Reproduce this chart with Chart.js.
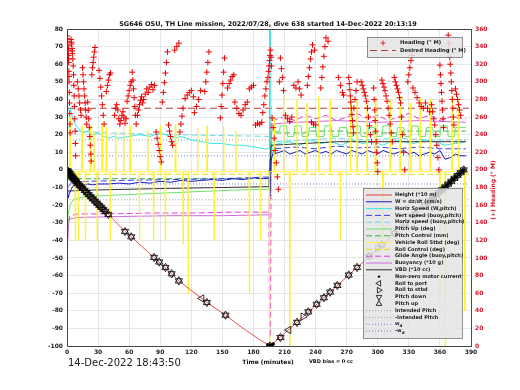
<!DOCTYPE html>
<html>
<head>
<meta charset="utf-8">
<script src="https://cdn.jsdelivr.net/npm/chart.js@4.4.1/dist/chart.umd.min.js"></script>
<style>
  html, body { margin: 0; padding: 0; background: #fff; }
</style>
</head>
<body>
<canvas id="diveChart" width="520" height="390"></canvas>
<script>
// ---- text ----
const titleText = "SG646 OSU, TH Line mission, 2022/07/28, dive 638 started 14-Dec-2022 20:13:19";
const startStamp = "14-Dec-2022 18:43:50";
const vbdBias = "VBD bias = 0 cc";

// ---- axes ----
const timeRange = [0, 390];
const leftRange = [-100, 80];
const headingRange = [0, 360];

// ---- heading (deg M), [minutes, heading] ----
const heading = [
  [0.3,352],[0.5,349],[0.6,346],[0.9,341],[1.0,338],[1.2,336],[1.4,330],[1.5,326],[1.6,322],[1.8,312],[1.9,306],[2.0,300],[2.2,288],[2.4,276],[2.6,264],[2.8,252],[3.0,242],
  [4,348],[4.2,345],[4.4,343],[4.8,338],[5.0,335],[5.2,332],[5.6,326],[6,318],[6.3,308],[6.6,296],[6.9,284],[7.2,272],[7.5,258],[7.8,244],[8.1,230],[8.4,216],
  [10,300],[10.8,292],[11.5,284],[12.2,276],[13,268],[13.6,262],
  [15,316],[15.5,308],[16,300],[16.5,292],[17,284],[17.5,276],[18,268],[18.5,260],[19,252],
  [20,277],[20.5,268],[21,258],[21.5,248],[22,238],[22.5,228],[23,218],[23.3,210],
  [24,308],[24.6,316],[25.2,322],[25.8,328],[26.4,334],[27,339],
  [31,313],[31.8,304],[32.6,294],[33.4,284],[34.2,274],[35,262],[35.8,252],
  [38,289],[39,296],[40,302],[41,308],[42,310],
  [46,262],[47,270],[48,274],[49,268],[50,258],[51,252],
  [52,256],[53,262],[54,266],[55,260],[56,253],[57,258],
  [58,278],[59,284],[60,290],[61,296],[62,300],
  [63,311],[63.6,302],[64.2,292],[64.8,282],[65.4,272],[66,262],[66.8,252],
  [68,262],[69,268],[70,274],[71,279],[72,283],[73,276],
  [74,280],[75.5,286],[77,292],[78.5,288],[80,294],[81.5,297],[83,291],[84.5,296],
  [86,243],[87,236],[88,229],[89,222],[90,215],[91,209],
  [92,277],[93,288],[94,299],[95,310],[96,322],[97,334],
  [98,251],[99,244],[100,238],[101,232],[102,228],
  [104,336],[106,340],[108,344],
  [109,243],[110,252],[111,261],[112,270],
  [114,281],[116,285],[118,288],[120,290],[122,283],
  [123,265],[125,272],[127,280],[129,290],
  [133,289],[134,300],[135,311],[136,322],[137,334],
  [148,259],[148.8,272],[149.6,285],[150.4,298],[151.2,311],[152,327],
  [155,293],[156.5,298],[158,302],[159.5,306],[161,308],
  [162,277],[164,270],[166,264],[168,262],[170,268],[172,274],[174,277],
  [176,292],[178,294],[180,296],
  [182,251],[184,253],[186,252],[188,254],
  [189,265],[190,274],[191,284],[192,292],[193,300],
  [194,305],[194.5,312],[195,318],[195.5,324],[196,330],[196.5,336],[197,328],[197.3,318],
  [198,259],[199,248],[200,236],[201,222],[202,208],[203,192],[204,178],
  [205,300],[206,327],[207,315],[208,305],[209,290],
  [211,262],[213,258],[215,255],[217,260],
  [219,296],[221,293],
  [223,300],[224.5,292],[226,285],
  [232,296],[233,306],[234,316],[235,326],[236,334],[237,342],[239,336],
  [236,254],[238,252],[240,251],
  [245,293],[246,305],[247,317],[248,329],[249,340],[250,350],[252,346],
  [262,305],[264,296],[266,288],[267,285],
  [272,305],[272.5,298],[273,291],[273.5,284],[274,277],[274.5,270],[275,263],[275.5,256],[276,249],[276.5,242],[277,270],[278,280],[279,290],[280,300],
  [284,300],[285,296],[286,292],[287,288],[288,284],[289,278],[290,270],[291,260],[292,250],[293,240],[294,232],
  [296,293],[296.5,280],[297,268],[297.5,256],[298,244],[298.5,232],[299,220],[299.5,208],[300,198],
  [304,302],[305,298],[306,294],[307,290],[308,284],[309,278],[310,270],[311,262],[312,252],[313,242],[314,232],
  [316,305],[317,300],[318,296],[319,292],[320,288],[321,282],[322,276],[323,260],[324,240],[325,220],[326,200],
  [329,300],[330,308],[331,316],[332,324],[333,330],
  [334,293],[336,288],[338,282],[340,276],[342,272],[344,270],[346,276],[348,270],[350,266],
  [352,274],[353,266],[354,258],[355,251],[356,240],[357,228],[358,214],[359,200],
  [360,319],[360.5,308],[361,298],[361.5,288],[362,278],[362.5,268],[363,258],[363.5,248],
  [368,353],[368.5,344],[369,336],[369.5,328],[370,320],[370.5,310],[371,300],[371.5,290],[372,280],[372.5,270],[373,260],[373.5,251],
  [375,292],[376,286],[377,280],[378,274],[379,268],[380,262]
];
const desiredHeading = [[0,270],[388,270]];

// ---- left axis series, [minutes, value] ----
const height = [[0,0],[5,-4],[10,-7.5],[20,-13.5],[30,-19.5],[42,-26.5],[56,-35],[62,-38],[84,-49.7],[108,-63],[135,-75.3],[153,-82.5],[170,-90],[185,-96],[196,-100],[222,-86.6],[280,-55.4],[340,-23.1],[383,0]];
const wSpeed = [[0,-4],[1,-16],[2,-14],[4,-11],[6,-9],[10,-8.5],[15,-9],[20,-8],[25,-8.5],[30,-8],[40,-8],[50,-7.5],[60,-8],[70,-7],[80,-7.5],[90,-6.5],[100,-7],[110,-6],[120,-6.5],[130,-6],[140,-5.5],[150,-6],[160,-5],[170,-5.5],[180,-4.5],[190,-5],[195,-4.5],[196,-15],[197,5],[198,8],[200,9],[205,10],[210,11],[215,9],[220,10],[225,11],[230,9],[235,10],[240,11],[245,9.5],[250,10.5],[255,9],[260,11],[265,10],[270,9],[275,11],[280,10],[285,9],[290,11],[295,10],[300,9],[305,11],[310,10],[315,9],[320,10],[325,11],[330,9],[335,10],[340,8],[345,9],[350,10],[355,9],[360,11],[365,6],[370,7],[375,9],[380,8],[385,8]];
const horizSpeedW = [[0,33],[3,35],[6,28],[10,24],[15,21],[20,22],[25,20],[30,21],[35,19],[40,18],[45,19],[50,18],[60,19],[70,20],[80,19],[90,21],[95,20],[100,19],[105,18],[110,19],[120,17],[130,16],[140,15],[150,15],[160,14],[170,14],[180,13],[190,12],[195,12],[195.5,80],[196.5,80],[197,-2],[198,14],[205,15],[215,16],[225,14],[235,17],[245,15],[255,16],[265,14],[275,17],[285,15],[295,16],[305,14],[315,17],[325,16],[335,15],[345,17],[355,16],[365,14],[375,15],[385,16]];
const vertSpeedBuoy = [[0,-10],[5,-7],[20,-6.5],[50,-6],[100,-5.5],[150,-5],[195,-4],[197,6],[200,12],[220,13],[240,12],[260,13.5],[280,12.5],[300,13],[320,12],[340,13],[360,12],[385,12]];
const horizSpeedBuoy = [[0,25],[10,22],[40,21],[100,20],[150,19.5],[195,19],[197,15],[200,16],[230,17],[260,18],[290,17],[320,18],[350,17],[385,17]];
const pitchUp = [[0,-80],[0.5,-40],[1,-25],[3,-20],[6,-17],[10,-16],[20,-15],[40,-14.5],[80,-13.5],[120,-12.5],[160,-11.5],[195,-11],[196,5],[197,22],[205,22],[206,25],[212,25],[213,19],[219,19],[220,25],[226,25],[227,19],[233,19],[234,24],[240,24],[241,19],[248,19],[249,25],[255,25],[256,19],[262,19],[263,24],[270,24],[271,19],[276,19],[277,25],[283,25],[284,19],[290,19],[291,24],[297,24],[298,19],[304,19],[305,25],[311,25],[312,19],[318,19],[319,24],[325,24],[326,19],[332,19],[333,25],[339,25],[340,19],[346,19],[347,24],[353,24],[354,19],[360,19],[361,25],[367,25],[368,19],[374,19],[375,24],[385,24]];
const pitchControl = [[0,-5],[195,-5],[197,21],[230,21],[231,22],[270,22],[271,21],[320,21],[321,22],[385,22]];
const rollBase = -1;
const rollSpikeT = [3,8,11,14.5,17.7,22.5,26,29,33.8,38,41.8,47,54.7,61.1,70,78,83.6,90.1,94.9,104.6,112,117,126,135.2,142,151.2,163,176,186.7,195.5,200,209,215,222,231.7,243,254,264,273.6,280,289.7,297.7,305,312,321.6,331.4,341,350.7,360,365,371.7,378,384];
const rollSpikeV = [30,-40,-40,25,-40,25,22,-40,26,24,-40,22,24,25,-40,22,-40,25,-40,26,-42,-70,24,25,-40,25,22,-70,-40,-100,30,42,-100,40,38,42,40,-40,42,40,38,41,-40,40,42,38,41,40,-70,-100,42,40,-80];
const rollControl = [[0,-2.5],[195,-2.5],[197,-2.5],[388,-2.5]];
const glideAngle = [[0,-60],[1,-30],[3,-26],[10,-25],[40,-25],[80,-24.5],[120,-24.5],[160,-24],[195,-24],[195.5,-95],[196.5,-95],[197,28],[210,30],[220,28],[230,31],[240,29],[250,31],[260,28],[270,30],[280,32],[290,29],[300,31],[310,28],[320,30],[330,32],[340,29],[350,31],[360,28],[370,30],[385,29]];
const buoyancy = [[0,-70],[0.5,-40],[2,-28],[10,-27],[50,-26.5],[100,-26],[150,-26],[195,-25.5],[197,26],[220,27],[260,28],[300,27],[340,28],[385,27]];
const vbd = [[0,-12],[2,-12],[20,-11.5],[60,-11],[100,-10.5],[150,-10],[195,-9.5],[197,14],[230,15],[260,16],[300,16],[385,16]];
const intendedPitch = [[0,-17],[196,-17],[197,17],[388,17]];
const negIntendedPitch = [[0,17],[196,17],[197,-17],[388,-17]];
const wD = [[0,8],[388,8]];
const negWD = [[0,-8],[388,-8]];

// ---- markers on the depth trace, [minutes, depth/10 m] ----
const motorOn = [[0,0],[0.5,-0.4],[1,-0.8],[1.5,-1.2],[2,-1.6],[2.5,-2],[3,-2.4],[3.5,-2.8],[4,-3.2],[194,-99.5],[195,-99.8],[196,-100],[197,-100],[197.5,-99.7],[198,-99.5],[199,-98.9],[350,-17.7],[352,-16.7],[354,-15.6],[356,-14.5],[358,-13.4],[360,-12.4],[362,-11.3],[364,-10.2],[366,-9.1],[368,-8.1],[370,-7],[372,-5.9],[374,-4.8],[376,-3.8],[378,-2.7],[380,-1.6],[382,-0.5],[383,0]];
const rollPort = [[130,-73],[214,-90.9]];
const rollStbd = [[228,-83.3],[300,-44.6]];
const pitchMoves = [[0.5,-0.4],[1.2,-1],[2,-1.6],[2.8,-2.2],[3.6,-2.9],[4.4,-3.5],[5.2,-4.2],[6,-4.7],[7,-5.4],[8,-6.1],[9,-6.8],[10.5,-7.8],[12,-8.7],[13.5,-9.6],[15,-10.5],[17,-11.7],[19,-12.9],[21,-14.1],[23,-15.3],[25,-16.5],[27,-17.7],[29,-18.9],[31,-20.1],[33,-21.2],[35,-22.4],[37,-23.5],[40,-25.3],[56,-35],[62,-38],[84,-49.7],[89,-52.3],[95,-55.4],[101,-59],[108,-63],[135,-75.3],[153,-82.5],[196,-100],[206,-95.2],[222,-86.6],[233,-80.6],[241,-76.3],[248,-72.6],[254,-69.4],[261,-65.6],[272,-59.7],[280,-55.4],[292,-48.9],[304,-42.5],[316,-36],[326,-30.6],[336,-25.3],[345,-20.4],[350,-17.7],[353,-16.1],[356,-14.5],[359,-12.9],[362,-11.3],[365,-9.7],[368,-8.1],[371,-6.5],[374,-4.8],[377,-3.2],[380,-1.6],[383,0]];

// build the roll trace from the spike table
const roll = [[0, rollBase]];
rollSpikeT.forEach(function (t, i) {
  roll.push([t - 0.4, rollBase], [t, rollSpikeV[i]], [t + 0.4, rollBase]);
});
roll.push([388, rollBase]);

const pts = arr => arr.map(p => ({ x: p[0], y: p[1] }));

function line(label, data, color, dash, order, width) {
  return {
    label: label, data: pts(data), showLine: true, pointRadius: 0,
    borderColor: color, backgroundColor: color, borderWidth: width || 0.9,
    borderDash: dash || [], order: order, yAxisID: "y", box: "bottom"
  };
}
function marks(label, data, style, rot, filled, order) {
  return {
    label: label, data: pts(data), showLine: false, pointStyle: style,
    pointRadius: style === "circle" ? 1.4 : 4.2, pointRotation: rot,
    borderColor: "#000", backgroundColor: filled ? "#000" : "rgba(0,0,0,0)",
    borderWidth: 0.8, order: order, yAxisID: "y", box: "bottom", mark: style, rot: rot
  };
}

const datasets = [
  { label: "Heading (° M)", data: pts(heading), showLine: false, pointStyle: "cross",
    pointRadius: 3, borderColor: "rgb(235,0,0)", borderWidth: 1, order: 1,
    yAxisID: "y1", box: "top", mark: "cross" },
  { label: "Desired Heading (° M)", data: pts(desiredHeading), showLine: true, pointRadius: 0,
    borderColor: "rgb(170,40,40)", borderWidth: 0.9, borderDash: [7, 4], order: 9,
    yAxisID: "y1", box: "top" },
  line("Height (*10 m)", height, "rgb(225,40,40)", [], 3, 0.8),
  line("W = dz/dt (cm/s)", wSpeed, "rgb(0,0,190)", [], 6),
  line("Horiz Speed (W,pitch)", horizSpeedW, "rgb(40,225,225)", [], 7),
  line("Vert speed (buoy,pitch)", vertSpeedBuoy, "rgb(40,40,235)", [6, 3], 8),
  line("Horiz speed (buoy,pitch)", horizSpeedBuoy, "rgb(90,215,235)", [6, 3], 8),
  line("Pitch Up (deg)", pitchUp, "rgb(90,225,90)", [], 7),
  line("Pitch Control (mm)", pitchControl, "rgb(40,170,40)", [6, 3], 8),
  line("Vehicle Roll Stbd (deg)", roll, "rgb(255,240,40)", [], 5),
  line("Roll Control (deg)", rollControl, "rgb(225,215,0)", [6, 3], 8),
  line("Glide Angle (buoy,pitch)", glideAngle, "rgb(225,40,225)", [6, 3], 7),
  line("Buoyancy (*10 g)", buoyancy, "rgb(200,90,220)", [], 7),
  line("VBD (*10 cc)", vbd, "rgb(30,30,30)", [], 6),
  marks("Non-zero motor current", motorOn, "circle", 0, true, 0),
  marks("Roll to port", rollPort, "triangle", 270, false, 0),
  marks("Roll to stbd", rollStbd, "triangle", 90, false, 0),
  marks("Pitch down", pitchMoves, "triangle", 180, false, 0),
  marks("Pitch up", pitchMoves, "triangle", 0, false, 0),
  line("Intended Pitch", intendedPitch, "rgb(150,150,150)", [1, 2], 9),
  line("-Intended Pitch", negIntendedPitch, "rgb(150,150,150)", [1, 2], 9),
  line("w_d", wD, "rgb(110,110,210)", [1, 2], 9),
  line("-w_d", negWD, "rgb(110,110,210)", [1, 2], 9)
];

function drawMark(ctx, kind, x, y, r, rot, color) {
  ctx.save();
  ctx.translate(x, y);
  ctx.rotate(rot * Math.PI / 180);
  ctx.strokeStyle = color;
  ctx.fillStyle = color;
  ctx.lineWidth = 0.8;
  ctx.beginPath();
  if (kind === "cross") {
    ctx.moveTo(-r, 0); ctx.lineTo(r, 0); ctx.moveTo(0, -r); ctx.lineTo(0, r); ctx.stroke();
  } else if (kind === "circle") {
    ctx.arc(0, 0, r, 0, Math.PI * 2); ctx.fill();
  } else {
    ctx.moveTo(0, -r); ctx.lineTo(r * 0.87, r * 0.5); ctx.lineTo(-r * 0.87, r * 0.5); ctx.closePath(); ctx.stroke();
  }
  ctx.restore();
}

function drawLegend(ctx, items, box, x0, y0, rowH, textX, font) {
  ctx.fillStyle = "rgba(228,228,228,0.85)";
  ctx.fillRect(box[0], box[1], box[2], box[3]);
  ctx.strokeStyle = "#777";
  ctx.lineWidth = 0.8;
  ctx.strokeRect(box[0] + 0.5, box[1] + 0.5, box[2], box[3]);
  ctx.font = font;
  ctx.textBaseline = "middle";
  ctx.textAlign = "left";
  items.forEach(function (ds, i) {
    const y = y0 + i * rowH;
    if (ds.mark) {
      drawMark(ctx, ds.mark, x0 + 13, y, ds.mark === "circle" ? 1.2 : (ds.mark === "cross" ? 2.6 : 3.2), ds.rot || 0, ds.borderColor);
    } else {
      ctx.save();
      ctx.strokeStyle = ds.borderColor;
      ctx.lineWidth = 0.9;
      ctx.setLineDash(ds.borderDash || []);
      ctx.beginPath();
      ctx.moveTo(x0, y);
      ctx.lineTo(x0 + 26, y);
      ctx.stroke();
      ctx.restore();
    }
    ctx.fillStyle = "#222";
    const text = ds.label;
    if (text === "w_d" || text === "-w_d") {
      const base = text.replace("_d", "");
      ctx.fillText(base, textX, y);
      const w = ctx.measureText(base).width;
      ctx.save();
      ctx.font = "bold 4px 'DejaVu Sans'";
      ctx.fillText("d", textX + w, y + 1.5);
      ctx.restore();
    } else {
      ctx.fillText(text, textX, y);
    }
  });
}

const decor = {
  id: "decor",
  afterDraw(chart) {
    const ctx = chart.ctx;
    const a = chart.chartArea;
    ctx.save();
    // frame
    ctx.strokeStyle = "#444";
    ctx.lineWidth = 1;
    ctx.beginPath();
    ctx.moveTo(a.right, a.top + 0.5); ctx.lineTo(a.left + 0.5, a.top + 0.5);
    ctx.lineTo(a.left + 0.5, a.bottom + 0.5); ctx.lineTo(a.right, a.bottom + 0.5);
    ctx.stroke();
    ctx.strokeStyle = "rgb(140,50,50)";
    ctx.beginPath();
    ctx.moveTo(a.right + 0.5, a.top); ctx.lineTo(a.right + 0.5, a.bottom + 1);
    ctx.stroke();

    // title and footer texts
    ctx.fillStyle = "#111";
    ctx.textAlign = "center";
    ctx.textBaseline = "middle";
    ctx.font = "bold 6.5px 'DejaVu Sans'";
    ctx.fillText(titleText, 268, 24);
    ctx.font = "bold 6px 'DejaVu Sans'";
    ctx.fillText("Time (minutes)", 268, 362);
    ctx.font = "bold 5px 'DejaVu Sans'";
    ctx.fillText(vbdBias, 331, 362);
    ctx.textAlign = "left";
    ctx.font = "10px 'DejaVu Sans'";
    ctx.fillStyle = "#222";
    ctx.fillText(startStamp, 68, 363);

    // right axis title
    ctx.save();
    ctx.translate(493, 190);
    ctx.rotate(-Math.PI / 2);
    ctx.textAlign = "center";
    ctx.fillStyle = "rgb(215,20,40)";
    ctx.font = "bold 6px 'DejaVu Sans'";
    ctx.fillText("(+) Heading (° M)", 0, 0);
    ctx.restore();

    const sets = chart.data.datasets;
    drawLegend(ctx, sets.filter(d => d.box === "top"), [367, 37, 95, 20], 370, 43, 7.5, 400, "bold 5.3px 'DejaVu Sans'");
    drawLegend(ctx, sets.filter(d => d.box === "bottom"), [363, 188, 99, 150], 366, 195, 6.8, 395, "bold 5px 'DejaVu Sans'");
    ctx.restore();
  }
};

const tickFont = { family: "DejaVu Sans", size: 6, weight: "bold" };

new Chart(document.getElementById("diveChart").getContext("2d"), {
  type: "scatter",
  data: { datasets: datasets },
  options: {
    responsive: false,
    animation: false,
    layout: { padding: { top: 29, left: 0, right: 0, bottom: 0 } },
    plugins: { legend: { display: false }, tooltip: { enabled: false }, title: { display: false } },
    scales: {
      x: {
        type: "linear", min: timeRange[0], max: timeRange[1],
        afterFit(scale) { scale.height = 44; },
        ticks: { stepSize: 30, font: tickFont, color: "#222", padding: 3, maxRotation: 0 },
        grid: { color: "#dcdcdc", lineWidth: 0.7, drawTicks: false },
        border: { display: false }
      },
      y: {
        type: "linear", position: "left", min: leftRange[0], max: leftRange[1],
        afterFit(scale) { scale.width = 67; },
        ticks: { stepSize: 10, font: tickFont, color: "#222", padding: 4 },
        grid: { color: "#dcdcdc", lineWidth: 0.7, drawTicks: false },
        border: { display: false }
      },
      y1: {
        type: "linear", position: "right", min: headingRange[0], max: headingRange[1],
        afterFit(scale) { scale.width = 49; },
        ticks: { stepSize: 20, font: tickFont, color: "rgb(215,20,40)", padding: 4 },
        grid: { display: false, drawTicks: false },
        border: { display: false }
      }
    }
  },
  plugins: [decor]
});
</script>
</body>
</html>
